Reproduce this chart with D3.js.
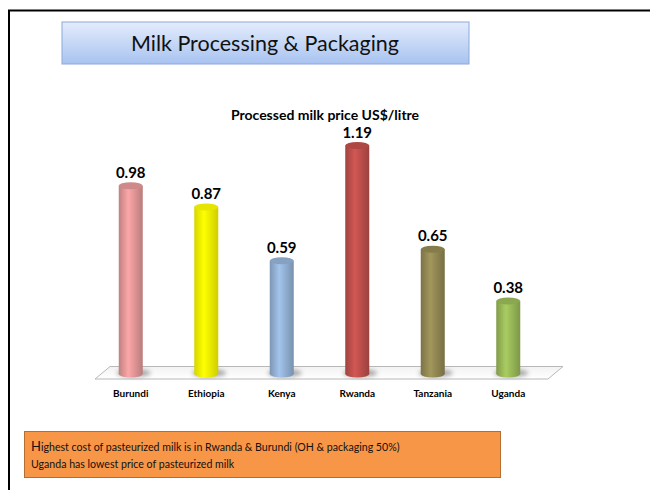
<!DOCTYPE html>
<html>
<head>
<meta charset="utf-8">
<script src="https://cdn.jsdelivr.net/npm/d3@7"></script>
<style>
  body { margin: 0; background: #fff; }
  svg { display: block; font-family: Lato, "Open Sans", sans-serif; }
</style>
</head>
<body>
<svg id="chart" width="650" height="490"></svg>
<script>
const countries = ["Burundi", "Ethiopia", "Kenya", "Rwanda", "Tanzania", "Uganda"];
const prices = [0.98, 0.87, 0.59, 1.19, 0.65, 0.38];
const barColors = ["#E6999A", "#FFFF00", "#95B3D7", "#C0504D", "#948A54", "#9BBB59"];
const notes = [
  "ighest cost of pasteurized milk is in Rwanda & Burundi (OH & packaging 50%)",
  "Uganda has lowest price of pasteurized milk",
];

const data = countries.map((c, i) => ({ country: c, price: prices[i], color: barColors[i] }));
const svg = d3.select("#chart");
const defs = svg.append("defs");

// slide frame
svg.append("path")
  .attr("d", "M9,490 V10.5 H650")
  .attr("fill", "none")
  .attr("stroke", "#000")
  .attr("stroke-width", 2);

// title box
const tg = defs.append("linearGradient").attr("id", "title-grad")
  .attr("x1", 0).attr("y1", 0).attr("x2", 0).attr("y2", 1);
tg.append("stop").attr("offset", "0%").attr("stop-color", "#E4ECFB");
tg.append("stop").attr("offset", "100%").attr("stop-color", "#A8C3F1");
svg.append("rect")
  .attr("x", 62).attr("y", 22).attr("width", 407).attr("height", 42)
  .attr("fill", "url(#title-grad)")
  .attr("stroke", "#8EAAD8").attr("stroke-width", 1);
svg.append("text")
  .attr("x", 265).attr("y", 51)
  .attr("text-anchor", "middle")
  .attr("font-size", 21.5)
  .attr("fill", "#111")
  .text("Milk Processing & Packaging");

// chart title
svg.append("text")
  .attr("x", 325).attr("y", 120)
  .attr("text-anchor", "middle")
  .attr("font-size", 14)
  .attr("font-weight", "bold")
  .text("Processed milk price US$/litre");

const x = d3.scalePoint().domain(countries).range([93, 546]).padding(0.5);
const y = d3.scaleLinear().domain([0, 1.25]).range([374, 134]);
const bw = 24;
const ry = 3.5;

// floor
const fg = defs.append("linearGradient").attr("id", "floor-grad")
  .attr("x1", 0).attr("y1", 0).attr("x2", 0).attr("y2", 1);
fg.append("stop").attr("offset", "0%").attr("stop-color", "#f2f2f2");
fg.append("stop").attr("offset", "100%").attr("stop-color", "#ffffff");
svg.append("path")
  .attr("d", `M95,379 L110,366.5 H563 L548,379 Z`)
  .attr("fill", "url(#floor-grad)")
  .attr("stroke", "#b8b8b8").attr("stroke-width", 1);

// shadows
const blur = defs.append("filter").attr("id", "blur")
  .attr("x", "-50%").attr("y", "-50%").attr("width", "200%").attr("height", "200%");
blur.append("feGaussianBlur").attr("stdDeviation", 2);
svg.selectAll(".shadow")
  .data(data)
  .join("ellipse")
  .attr("class", "shadow")
  .attr("cx", (d) => x(d.country) + 3)
  .attr("cy", y(0) - 1)
  .attr("rx", bw / 2 + 5)
  .attr("ry", 4)
  .attr("fill", "#888")
  .attr("opacity", 0.7)
  .attr("filter", "url(#blur)");

// cylinder gradients
data.forEach((d, i) => {
  const c = d3.color(d.color);
  const g = defs.append("linearGradient").attr("id", "bar-grad-" + i)
    .attr("x1", 0).attr("y1", 0).attr("x2", 1).attr("y2", 0);
  g.append("stop").attr("offset", "0%").attr("stop-color", c.darker(0.5));
  g.append("stop").attr("offset", "40%").attr("stop-color", c.brighter(0.25));
  g.append("stop").attr("offset", "100%").attr("stop-color", c.darker(0.6));
});

const bars = svg.selectAll(".bar")
  .data(data)
  .join("g")
  .attr("class", "bar");

bars.append("ellipse")
  .attr("cx", (d) => x(d.country))
  .attr("cy", y(0))
  .attr("rx", bw / 2)
  .attr("ry", ry)
  .attr("fill", (d, i) => `url(#bar-grad-${i})`);

bars.append("rect")
  .attr("x", (d) => x(d.country) - bw / 2)
  .attr("y", (d) => y(d.price))
  .attr("width", bw)
  .attr("height", (d) => y(0) - y(d.price))
  .attr("fill", (d, i) => `url(#bar-grad-${i})`);

bars.append("ellipse")
  .attr("cx", (d) => x(d.country))
  .attr("cy", (d) => y(d.price))
  .attr("rx", bw / 2)
  .attr("ry", ry)
  .attr("fill", (d) => d3.color(d.color).darker(0.3));

bars.append("text")
  .attr("x", (d) => x(d.country))
  .attr("y", (d) => y(d.price) - 8)
  .attr("text-anchor", "middle")
  .attr("font-size", 15)
  .attr("font-weight", "bold")
  .text((d) => d.price.toFixed(2));

svg.selectAll(".cat")
  .data(countries)
  .join("text")
  .attr("class", "cat")
  .attr("x", (d) => x(d))
  .attr("y", 397)
  .attr("text-anchor", "middle")
  .attr("font-size", 10)
  .attr("font-weight", "bold")
  .text((d) => d);

// note box
svg.append("rect")
  .attr("x", 24.5).attr("y", 431.5).attr("width", 476).attr("height", 46)
  .attr("fill", "#F79646")
  .attr("stroke", "#B66D31").attr("stroke-width", 1);
const t1 = svg.append("text").attr("x", 31).attr("y", 451).attr("font-size", 10.6).attr("fill", "#111");
t1.append("tspan").attr("font-size", 13).text("H");
t1.append("tspan").text(notes[0]);
svg.append("text").attr("x", 31).attr("y", 468).attr("font-size", 10.6).attr("fill", "#111").text(notes[1]);
</script>
</body>
</html>
